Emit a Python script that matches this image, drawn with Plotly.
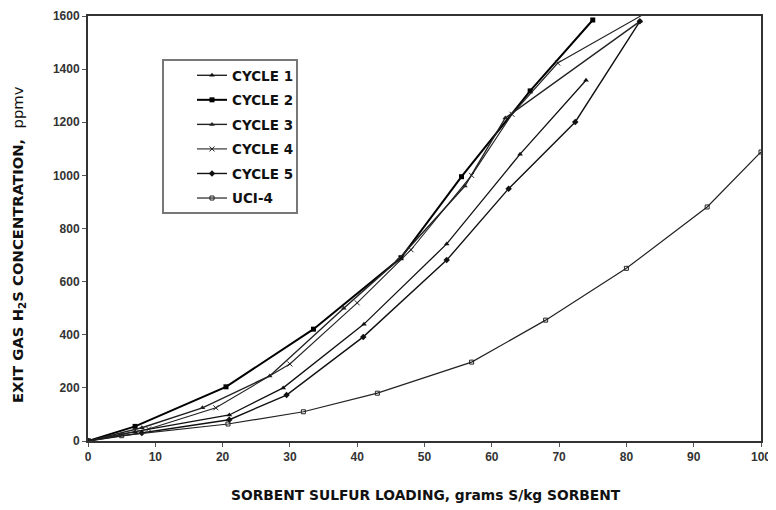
import plotly.graph_objects as go

# --- data ---
series_names = ["CYCLE 1", "CYCLE 2", "CYCLE 3", "CYCLE 4", "CYCLE 5", "UCI-4"]

c1_x = [0, 7, 21, 29, 41, 53.3, 64.2, 74]
c1_y = [0, 35, 98, 200, 440, 742, 1080, 1358]

c2_x = [0, 7, 20.5, 33.5, 46.5, 55.5, 65.7, 75]
c2_y = [0, 55, 204, 421, 690, 995, 1318, 1585]

c3_x = [0, 8, 17, 27, 38, 46, 56, 62, 82]
c3_y = [0, 50, 125, 245, 500, 680, 960, 1216, 1580]

c4_x = [0, 9, 19, 30, 40, 48, 57, 63, 69.8, 83.5]
c4_y = [0, 45, 125, 290, 520, 720, 1000, 1230, 1423, 1620]

c5_x = [0, 8, 21, 29.5, 40.9, 53.3, 62.5, 72.4, 82]
c5_y = [0, 30, 80, 173, 392, 681, 950, 1201, 1580]

uci_x = [0, 5, 20.8, 32, 43, 57, 68, 80, 92, 100]
uci_y = [0, 20, 64, 110, 180, 297, 455, 650, 881, 1088]

x_ticks = [0, 10, 20, 30, 40, 50, 60, 70, 80, 90, 100]
y_ticks = [0, 200, 400, 600, 800, 1000, 1200, 1400, 1600]

x_title = "SORBENT SULFUR LOADING, grams S/kg SORBENT"
y_title = ("EXIT GAS H<sub>2</sub>S CONCENTRATION,  "
           "<span style='font-weight:normal'>ppmv</span>")

xs = [c1_x, c2_x, c3_x, c4_x, c5_x, uci_x]
ys = [c1_y, c2_y, c3_y, c4_y, c5_y, uci_y]

styles = [
    dict(symbol="triangle-up", size=5, color="#111", lw=1.3, mline=0),
    dict(symbol="square", size=5, color="#000", lw=2.0, mline=0),
    dict(symbol="triangle-up", size=5, color="#222", lw=1.4, mline=0),
    dict(symbol="x-thin-open", size=5, color="#222", lw=1.1, mline=1),
    dict(symbol="diamond", size=5, color="#111", lw=1.4, mline=0),
    dict(symbol="square-open", size=4, color="#222", lw=1.2, mline=1),
]

fig = go.Figure()
for name, x, y, s in zip(series_names, xs, ys, styles):
    fig.add_trace(go.Scatter(
        x=x, y=y, name=name, mode="lines+markers", legendgroup=name,
        line=dict(color=s["color"], width=s["lw"]),
        marker=dict(symbol=s["symbol"], size=s["size"], color=s["color"],
                    line=dict(color=s["color"], width=s["mline"])),
    ))

tick_font = "Liberation Sans, Arial, sans-serif"
title_font = "DejaVu Sans, Verdana, sans-serif"

# The page body adds an 8px offset; figure is sized to fit the 776x510 window.
OFF = 8
W, H = 776 - OFF, 510 - OFF
# plot area in window pixels: x 88..761, y 16..441
L, R, T, B = 88 - OFF, W - (761 - OFF), 16 - OFF, H - (441 - OFF)
PW, PH = W - L - R, H - T - B


def px_x(p):
    return (p - OFF - L) / PW


def px_y(p):
    return (H - B - (p - OFF)) / PH


fig.update_layout(
    width=W, height=H,
    margin=dict(l=L, r=R, t=T, b=B),
    paper_bgcolor="white", plot_bgcolor="white",
    font=dict(family=tick_font, size=12, color="#222", weight="bold"),
    showlegend=True,
    legend=dict(
        x=px_x(192), y=px_y(60), xanchor="left", yanchor="top",
        borderwidth=0, bgcolor="rgba(0,0,0,0)",
        font=dict(family=title_font, size=13.5, color="#111", weight="bold"),
        tracegroupgap=4, itemwidth=30,
    ),
    shapes=[dict(
        type="rect", xref="paper", yref="paper",
        x0=px_x(163), x1=px_x(297), y0=px_y(213), y1=px_y(60),
        line=dict(color="#777", width=2), fillcolor="white", layer="below",
    )],
    annotations=[
        dict(text=x_title, xref="paper", yref="paper",
             x=px_x(426), y=px_y(495), xanchor="center", yanchor="middle",
             showarrow=False,
             font=dict(family=title_font, size=13.8, color="#111", weight="bold")),
        dict(text=y_title, xref="paper", yref="paper",
             x=px_x(18), y=px_y(245), xanchor="center", yanchor="middle",
             textangle=-90, showarrow=False,
             font=dict(family=title_font, size=14.8, color="#111", weight="bold")),
    ],
    xaxis=dict(
        range=[0, 100], tickvals=x_ticks, ticktext=[str(v) for v in x_ticks],
        showgrid=False, zeroline=False, automargin=False,
        showline=True, linecolor="#333", linewidth=2, mirror=True,
        ticks="outside", ticklen=4, tickcolor="#555",
        tickfont=dict(size=12, color="#333"),
    ),
    yaxis=dict(
        range=[0, 1600], tickvals=y_ticks, ticktext=[str(v) for v in y_ticks],
        showgrid=False, zeroline=False, automargin=False,
        showline=True, linecolor="#333", linewidth=2, mirror=True,
        ticks="outside", ticklen=4, tickcolor="#555",
        tickfont=dict(size=12, color="#333"),
    ),
)

fig.write_html("out.html")
